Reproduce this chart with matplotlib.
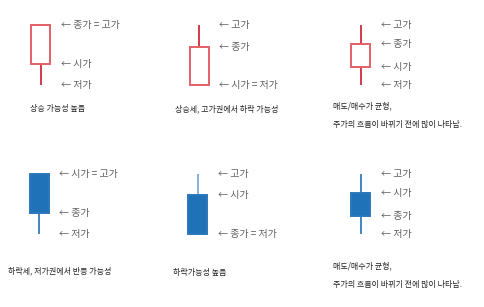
import matplotlib
matplotlib.use("Agg")
import matplotlib.pyplot as plt
from matplotlib.patches import Rectangle
import numpy as np

plt.rcParams['font.family'] = ['Noto Sans CJK KR', 'DejaVu Sans']

# ---- data (prices, 0..100 scale) ----
top_open  = [35, 0, 30]
top_high  = [100, 100, 100]
top_low   = [0, 0, 0]
top_close = [100, 63, 68]

bot_open  = [100, 65, 68]
bot_high  = [100, 100, 100]
bot_low   = [0, 0, 0]
bot_close = [35, 0, 30]

top_labels = [
    [("종가 = 고가", 100), ("시가", 35), ("저가", 0)],
    [("고가", 100), ("종가", 63), ("시가 = 저가", 0)],
    [("고가", 100), ("종가", 68), ("시가", 30), ("저가", 0)],
]
bot_labels = [
    [("시가 = 고가", 100), ("종가", 35), ("저가", 0)],
    [("고가", 100), ("시가", 65), ("종가 = 저가", 0)],
    [("고가", 100), ("시가", 68), ("종가", 30), ("저가", 0)],
]
top_captions = ["상승 가능성 높음",
                "상승세, 고가권에서 하락 가능성",
                "매도/매수가 균형,\n주가의 흐름이 바뀌기 전에 많이 나타남."]
bot_captions = ["하락세, 저가권에서 반등 가능성",
                "하락가능성 높음",
                "매도/매수가 균형,\n주가의 흐름이 바뀌기 전에 많이 나타남."]

# ---- layout ----
W, H = 485, 307
fig = plt.figure(figsize=(W / 100, H / 100), dpi=100)
fig.patch.set_facecolor('white')

PX_PER_X = 160.0
X0_PX = 41.0
PX_PER_P = 0.6  # pixels per price unit
text_col = '#606060'

def make_row(ax_top_px, ax_bot_px, p100_px):
    ax = fig.add_axes([0, 1 - ax_bot_px / H, 1, (ax_bot_px - ax_top_px) / H])
    ax.set_xlim(-X0_PX / PX_PER_X, (W - X0_PX) / PX_PER_X)
    ytop = 100 + (p100_px - ax_top_px) / PX_PER_P
    p0_px = p100_px + 100 * PX_PER_P
    ybot = 0 - (ax_bot_px - p0_px) / PX_PER_P
    ax.set_ylim(ybot, ytop)
    ax.axis('off')
    return ax

def draw_row(ax, o, h, l, c, labels, captions, cap_px, up, x_shift):
    width = 19 / PX_PER_X
    for i in range(len(o)):
        x = i + x_shift[i]
        lo, hi = min(o[i], c[i]), max(o[i], c[i])
        if up:
            face, edge, wick = 'white', '#e4606a', '#d23a48'
        else:
            face, edge, wick = '#1f72b8', '#2a78bb', '#3f85c4' if i != 1 else '#7fb3de'
        ax.plot([x, x], [hi, h[i]], color=wick, lw=1.4, solid_capstyle='butt', zorder=1)
        ax.plot([x, x], [l[i], lo], color=wick, lw=1.4, solid_capstyle='butt', zorder=1)
        ax.add_patch(Rectangle((x - width / 2, lo), width, hi - lo,
                               facecolor=face, edgecolor=edge, lw=1.4, zorder=2))
        for txt, p in labels[i]:
            ax.text(x + 20 / PX_PER_X, p, "← " + txt, fontsize=7.2, color=text_col,
                    va='center', ha='left')
        cx, cy = cap_px[i]
        ax.annotate(captions[i], xy=(cx / W, 1 - cy / H), xycoords='figure fraction',
                    fontsize=5.8, color='#222222', va='center', ha='left',
                    linespacing=2.3)

ax1 = make_row(0, 150, 25)
draw_row(ax1, top_open, top_high, top_low, top_close, top_labels, top_captions,
         [(30, 109), (175, 109), (333, 115)], True, [0, -0.01, 0.0])

ax2 = make_row(150, 300, 174)
draw_row(ax2, bot_open, bot_high, bot_low, bot_close, bot_labels, bot_captions,
         [(8, 271), (173, 272), (333, 275)], False, [-0.01, -0.02, 0.0])

fig.savefig("out.png", dpi=100, facecolor='white')
